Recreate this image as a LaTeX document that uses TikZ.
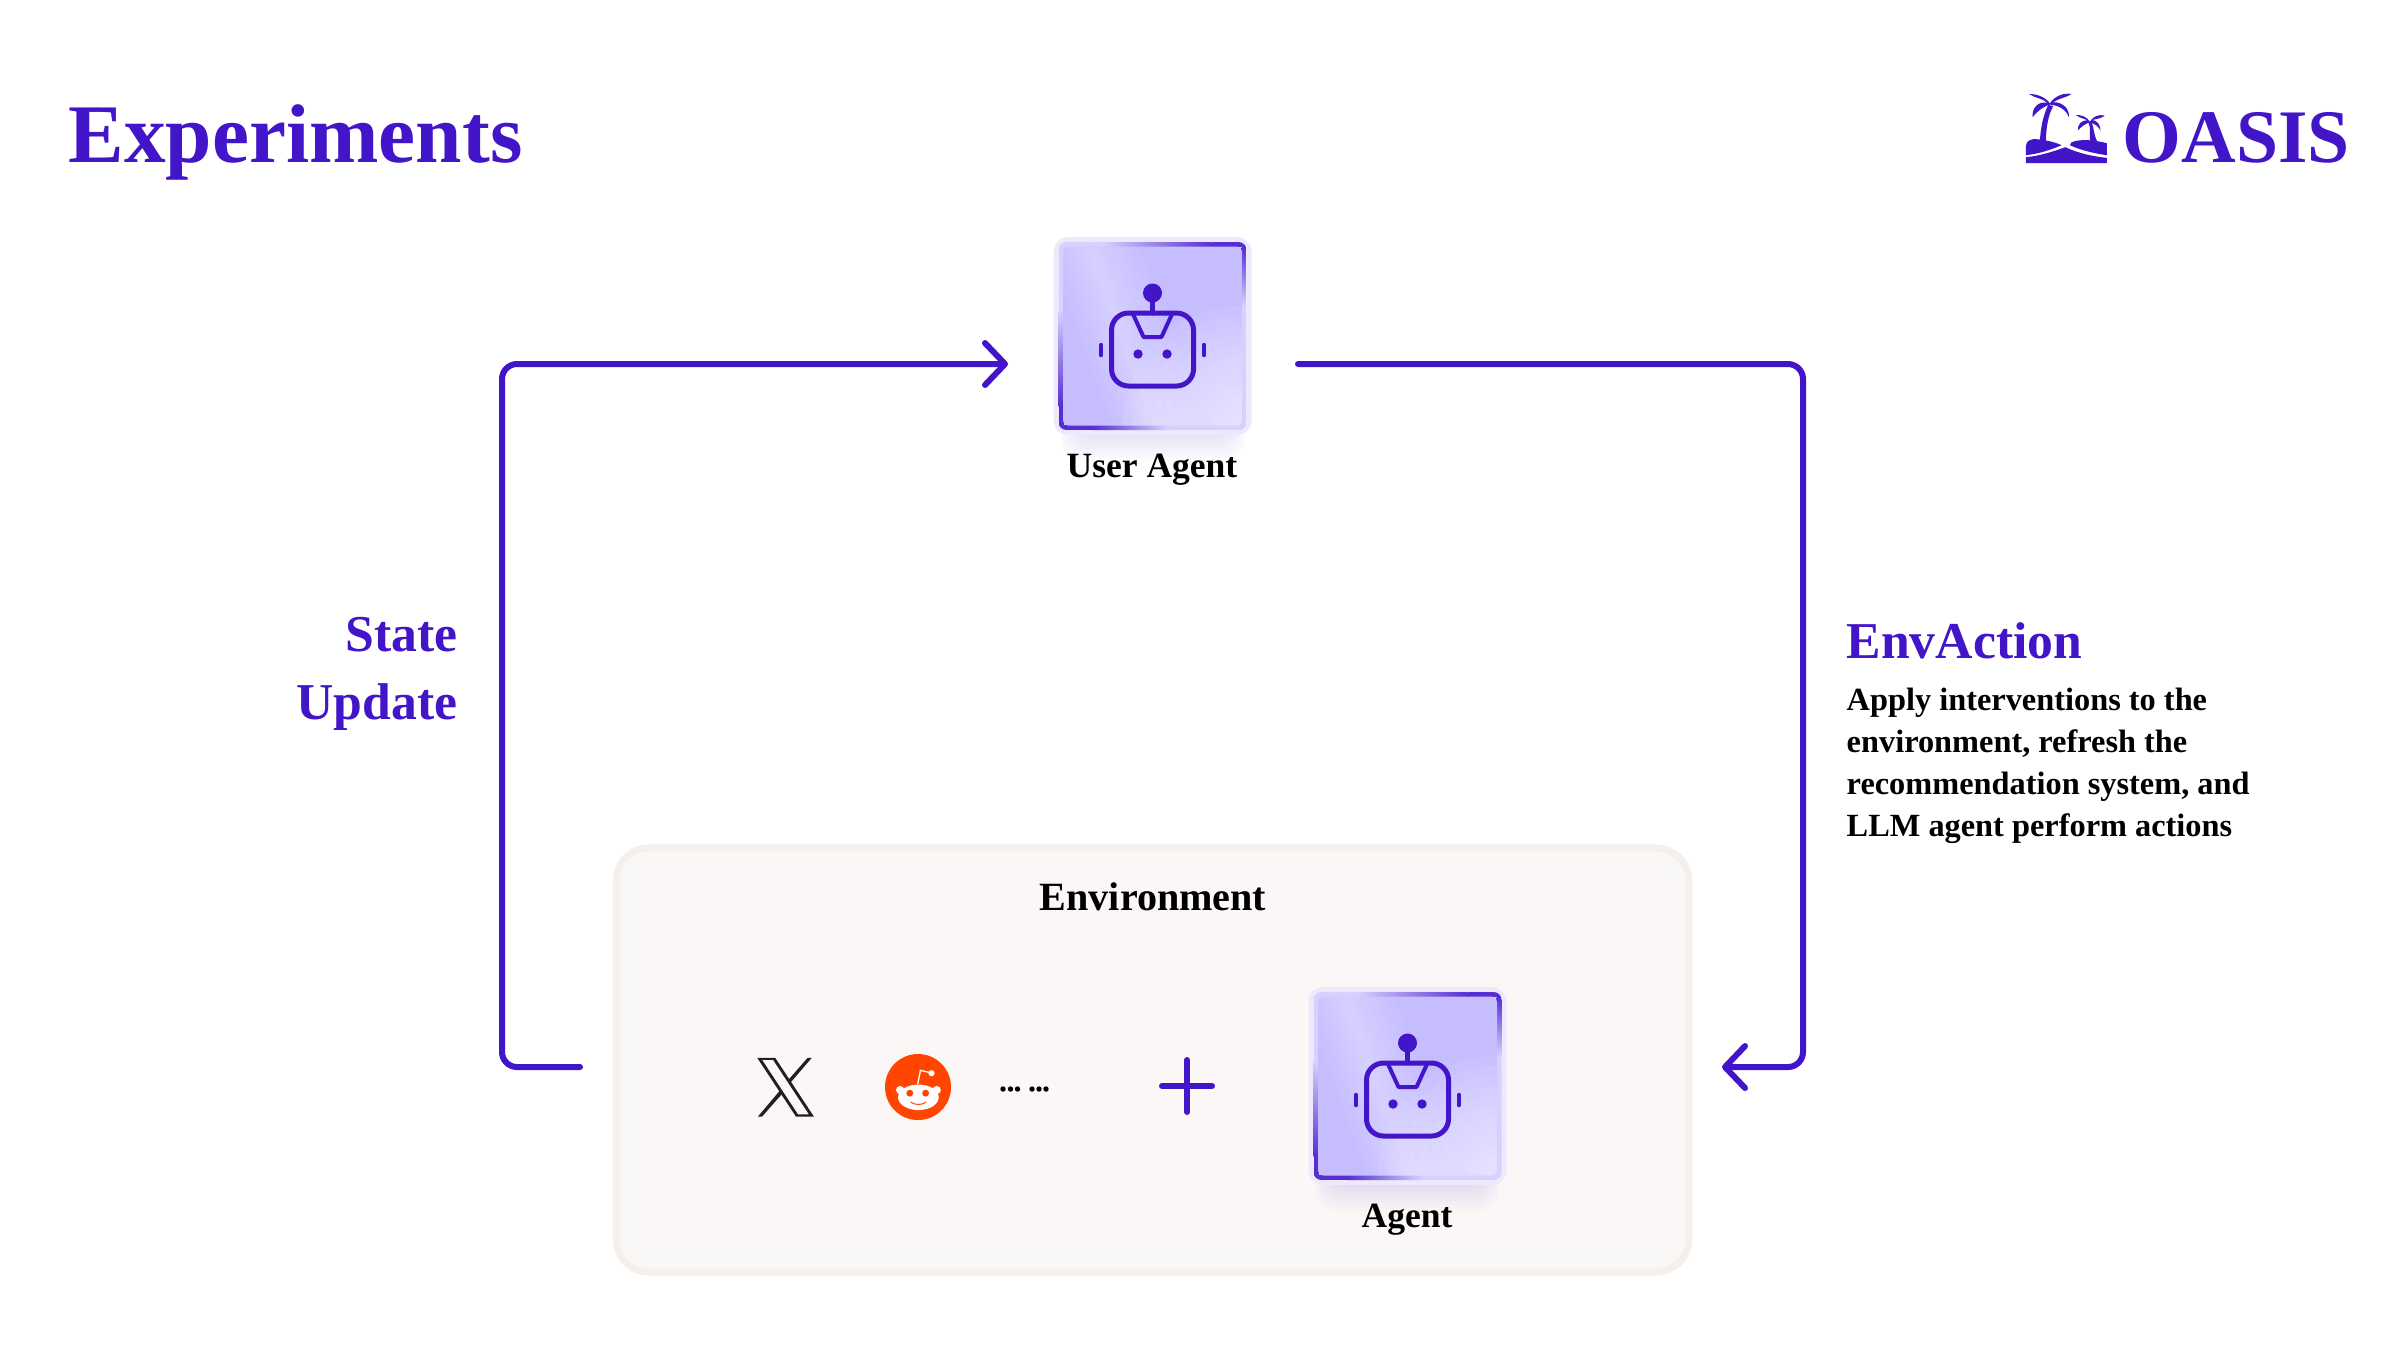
\documentclass[tikz,border=0pt]{standalone}
\usepackage{fontspec}
\setmainfont{Liberation Serif}
\newcommand{\dsp}{\bfseries}
\usetikzlibrary{arrows.meta}
\definecolor{purp}{HTML}{4315C9}
\definecolor{cardbase}{HTML}{C6BDFF}
\definecolor{halo}{HTML}{ECE9FD}
\definecolor{envborder}{HTML}{F6F0ED}
\definecolor{envfill}{HTML}{FAF8F7}
\definecolor{envinner}{HTML}{FBF7F6}
\definecolor{redd}{HTML}{FF4500}
\colorlet{ringlite}{cardbase!70!white}
\colorlet{ringdark}{purp!85!cardbase}
\pgfdeclarehorizontalshading{sheen}{100bp}{color(0bp)=(cardbase); color(30bp)=(cardbase); color(42bp)=(cardbase!72!white); color(56bp)=(cardbase); color(100bp)=(cardbase)}
\tikzset{
  x=0.01cm,y=-0.01cm,
  flow/.style={draw=purp,line width=0.06cm,rounded corners=0.15cm,line cap=round,-{Straight Barb[length=0.2cm,width=0.42cm,round]}},
  heading/.style={font=\dsp\fontsize{14.7pt}{14.7pt}\selectfont,text=purp,inner sep=0pt},
  caption/.style={font=\dsp\fontsize{10.1pt}{10.1pt}\selectfont,text=black,inner sep=0pt,anchor=base},
  body/.style={font=\dsp\fontsize{9.2pt}{9.2pt}\selectfont,text=black,inner sep=0pt,anchor=base west},
  botline/.style={draw=purp,line width=0.05cm,line join=round,line cap=round},
  anchorbox/.style={minimum width=1.98cm,minimum height=1.98cm,inner sep=0pt,outer sep=0pt}
}
\newcommand{\botcard}[2]{%
 \begin{scope}[shift={(#1,#2)}]
  % soft shadow
  \foreach \sh in {0,3,...,27}{
    \fill[purp,opacity=.01,rounded corners=0.2cm] (-92+\sh*0.6,60) rectangle (92-\sh*0.6,125-\sh);
  }
  \fill[halo,rounded corners=0.15cm] (-99,-99) rectangle (99,99);
  \begin{scope}
   \path[clip,rounded corners=0.08cm] (-94,-94) rectangle (94,94);
   \fill[ringlite] (-94,-94) rectangle (94,94);
   \shade[left color=ringlite,right color=ringdark] (-50,-94) rectangle (60,-89);
   \fill[ringdark] (60,-94) rectangle (94,-89);
   \shade[top color=ringdark,bottom color=ringlite] (89,-89) rectangle (94,-30);
   \shade[top color=ringlite,bottom color=ringdark] (-94,-25) rectangle (-89,70);
   \fill[ringdark] (-94,70) rectangle (-89,94);
   \shade[left color=ringdark,right color=ringlite] (-60,89) rectangle (15,94);
   \fill[ringdark] (-89,89) rectangle (-60,94);
  \end{scope}
  \begin{scope}
   \path[clip,rounded corners=0.05cm] (-89.5,-89.5) rectangle (89.5,89.5);
   \shade[shading=sheen,shading angle=20] (-90,-90) rectangle (90,90);
   \foreach \gr in {20,30,...,120}{
     \fill[white,opacity=.08] (90,90) circle (\gr);
   }
  \end{scope}
  \fill[purp] (0,-43) circle (9.5);
  \draw[botline] (0,-36) -- (0,-23);
  \draw[botline,rounded corners=0.17cm] (-41,-23) rectangle (41,50);
  \draw[botline,line width=0.04cm] (-20,-23) -- (-9,1) -- (9,1) -- (20,-23);
  \fill[purp] (-14.5,18) circle (4.7) (14.5,18) circle (4.7);
  \draw[botline,line width=0.045cm] (-51.5,9) -- (-51.5,19) (51.5,9) -- (51.5,19);
 \end{scope}}
\begin{document}
\begin{tikzpicture}
\useasboundingbox (0,0) rectangle (2400,1350);
\fill[white] (0,0) rectangle (2400,1350);
% title
\node[heading,anchor=base west,font=\dsp\fontsize{23.7pt}{23.7pt}\selectfont] (title) at (68,162) {Experiments};
% logo
\node[heading,anchor=base west,font=\dsp\fontsize{21.5pt}{21.5pt}\selectfont] (oasis) at (2122,162) {OASIS};
\begin{scope}[shift={(1990,70)},x=0.00333cm,y=-0.00333cm]
 \fill[purp] (108,228) .. controls (108,212) and (125,206) .. (140,208) .. controls (155,208) and (195,216) .. (215,226) .. controls (170,245) and (140,252) .. (108,256) -- cycle;
 \fill[purp] (245,217) .. controls (275,205) and (320,212) .. (351,220) -- (351,256) .. controls (310,250) and (270,240) .. (240,226) -- cycle;
 \fill[purp] (108,262) .. controls (150,258) and (190,245) .. (226,232) .. controls (265,250) and (310,260) .. (351,264) -- (351,280) -- (108,280) -- cycle;
 \fill[purp] (150,212) .. controls (152,170) and (162,130) .. (175,105) -- (190,108) .. controls (175,135) and (168,175) .. (168,214) -- cycle;
 \fill[purp] (180,100) .. controls (165,80) and (140,72) .. (117,72) .. controls (135,85) and (160,85) .. (172,99) .. controls (145,92) and (125,115) .. (128,142) .. controls (145,120) and (165,108) .. (180,104) .. controls (205,105) and (230,120) .. (237,142) .. controls (240,115) and (215,95) .. (190,97) .. controls (205,85) and (225,85) .. (245,72) .. controls (220,68) and (195,78) .. (180,100) -- cycle;
 \fill[purp] (300,212) .. controls (298,195) and (304,175) .. (296,158) -- (306,158) .. controls (312,175) and (312,195) .. (322,215) -- cycle;
 \fill[purp] (300,155) .. controls (290,140) and (275,135) .. (258,135) .. controls (270,145) and (282,145) .. (292,151) .. controls (275,150) and (262,165) .. (264,182) .. controls (275,168) and (290,160) .. (298,158) .. controls (315,160) and (325,170) .. (332,182) .. controls (332,165) and (322,152) .. (308,150) .. controls (320,147) and (335,145) .. (345,137) .. controls (325,132) and (310,140) .. (300,155) -- cycle;
\end{scope}
% environment
\node[draw=envborder,line width=0.07cm,fill=envfill,rounded corners=0.33cm,minimum width=10.72cm,minimum height=4.24cm,inner sep=0pt] (env) at (1152.5,1060) {};
\fill[envinner,rounded corners=0.1cm] (640,878) rectangle (1665,1245);
\node[caption,font=\dsp\fontsize{11.4pt}{11.4pt}\selectfont] (envlabel) at (1153,910) {Environment};
% cards
\botcard{1152.5}{336}
\node[anchorbox] (ua) at (1152.5,336) {};
\node[caption] (ualabel) at (1152,477) {User Agent};
\botcard{1407.5}{1086}
\node[anchorbox] (ag) at (1407.5,1086) {};
\node[caption] (aglabel) at (1407,1227) {Agent};
% icons
\node[inner sep=0pt,minimum size=0.6cm] (xlogo) at (785,1086) {};
\begin{scope}[shift={(720,1018.5)},x=0.003444cm,y=-0.003444cm]
 \fill[black!88,even odd rule] (108,114) -- (160,114) -- (272,284) -- (220,284) -- cycle (122,120) -- (226,278) -- (258,278) -- (154,120) -- cycle;
 \fill[black!88] (254,114) -- (266,114) -- (204,186) -- (198,178) -- cycle (110,284) -- (122,284) -- (182,216) -- (176,206) -- cycle;
\end{scope}
\node[circle,fill=redd,inner sep=0pt,minimum size=0.66cm] (reddit) at (918,1087) {};
\begin{scope}[shift={(720,1020)},x=0.003444cm,y=-0.003444cm]
 \fill[white] (575,224) ellipse (59 and 37);
 \fill[white] (522,203) circle (12) (628,203) circle (12);
 \fill[redd] (550,212) circle (10) (596,212) circle (10);
 \draw[white,line width=0.013cm] (573,186) -- (581,146) -- (612,153);
 \fill[white] (613,154) circle (9);
 \draw[redd,line width=0.01cm,line cap=round] (553,238) .. controls (565,247) and (585,247) .. (597,238);
\end{scope}
\node[inner sep=0pt] (dots) at (1025,1089) {};
\fill[black] \foreach \px in {1003,1010.5,1017.5,1032,1039,1046}{(\px,1089) circle (2.7)};
\coordinate (plusc) at (1187,1086);
\draw[purp,line width=0.06cm,line cap=round] ([xshift=-0.25cm]plusc) -- ([xshift=0.25cm]plusc) ([yshift=-0.26cm]plusc) -- ([yshift=0.26cm]plusc);
% connectors
\coordinate (sstart) at (580,1067);
\coordinate (scorner) at (502,1067);
\coordinate (scorner2) at (502,364);
\coordinate (send) at (1008,364);
\coordinate (astart) at (1298,364);
\coordinate (acorner) at (1803,364);
\coordinate (acorner2) at (1803,1067);
\coordinate (aend) at (1722,1067);
\draw[flow] (sstart) -- (scorner) -- (scorner2) -- (send);
\draw[flow] (astart) -- (acorner) -- (acorner2) -- (aend);
% labels
\node[heading,anchor=base east] (state) at (458,651) {State};
\node[heading,anchor=base east] (update) at (458,719) {Update};
\node[heading,anchor=base west] (envaction) at (1846,658) {EnvAction};
\node[body] (b1) at (1846,710) {Apply interventions to the};
\node[body] (b2) at (1846,752) {environment, refresh the};
\node[body] (b3) at (1846,794) {recommendation system, and};
\node[body] (b4) at (1846,836) {LLM agent perform actions};
\end{tikzpicture}
\end{document}
